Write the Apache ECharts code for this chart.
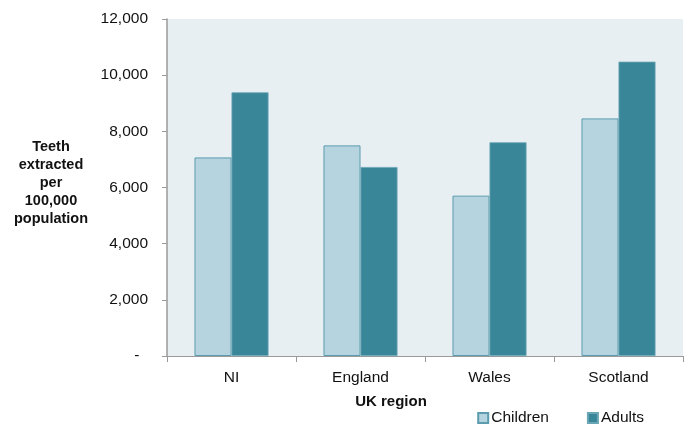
<!DOCTYPE html>
<html>
<head>
<meta charset="utf-8">
<script src="https://cdn.jsdelivr.net/npm/echarts@6/dist/echarts.min.js"></script>
<style>
  html, body { margin: 0; padding: 0; background: #ffffff; }
  #chart { width: 691px; height: 432px; }
</style>
</head>
<body>
<div id="chart"></div>
<script>
// Teeth extracted per 100,000 population, by UK region
const regions = ['NI', 'England', 'Wales', 'Scotland'];
const children = [7070, 7500, 5710, 8460];
const adults = [9390, 6730, 7610, 10480];
const yTicks = [0, 2000, 4000, 6000, 8000, 10000, 12000];

const FONT = '"Liberation Sans", Arial, sans-serif';
const TEXT = '#111111';

const chart = echarts.init(document.getElementById('chart'), null, { renderer: 'canvas' });

chart.setOption({
  animation: false,
  textStyle: { fontFamily: FONT },
  grid: {
    left: 167, right: 8, top: 19, bottom: 76,
    show: true, backgroundColor: '#e7eff3', borderWidth: 0
  },
  legend: {
    data: ['Children', 'Adults'],
    right: 42, bottom: 1,
    itemWidth: 10, itemHeight: 10, itemGap: 38,
    icon: 'rect',
    textStyle: { fontFamily: FONT, fontSize: 15.5, color: TEXT, padding: [0, 0, 0, -2] }
  },
  graphic: [
    {
      type: 'text',
      style: {
        text: 'Teeth\nextracted\nper\n100,000\npopulation',
        x: 51, y: 138, textAlign: 'center',
        font: 'bold 14.5px ' + FONT, lineHeight: 18, fill: TEXT
      }
    },
    {
      type: 'text',
      style: {
        text: 'UK region', x: 391, y: 394, textAlign: 'center',
        font: 'bold 15px ' + FONT, fill: TEXT
      }
    }
  ],
  xAxis: {
    type: 'category',
    data: regions,
    axisLine: { show: true, lineStyle: { color: '#9a9a9a', width: 1 } },
    axisTick: { show: true, alignWithLabel: false, length: 6, lineStyle: { color: '#9a9a9a' } },
    axisLabel: { fontFamily: FONT, fontSize: 15.5, color: TEXT, margin: 14 }
  },
  yAxis: {
    type: 'value',
    min: yTicks[0], max: yTicks[yTicks.length - 1], interval: 2000,
    axisLine: { show: true, lineStyle: { color: '#9a9a9a', width: 1.5 } },
    axisTick: { show: true, length: 5, lineStyle: { color: '#9a9a9a' } },
    splitLine: { show: false },
    axisLabel: {
      fontFamily: FONT, fontSize: 15.5, color: TEXT, margin: 19,
      formatter: v => v === 0 ? '-  ' : v.toLocaleString('en-US')
    }
  },
  series: [
    {
      name: 'Children', type: 'bar', data: children,
      barGap: '0%', barCategoryGap: '42.6%',
      itemStyle: { color: '#b6d4df', borderColor: '#5c9cae', borderWidth: 1 }
    },
    {
      name: 'Adults', type: 'bar', data: adults,
      itemStyle: { color: '#3a8699', borderColor: '#6aa6b5', borderWidth: 0.8 }
    }
  ]
});
</script>
</body>
</html>
